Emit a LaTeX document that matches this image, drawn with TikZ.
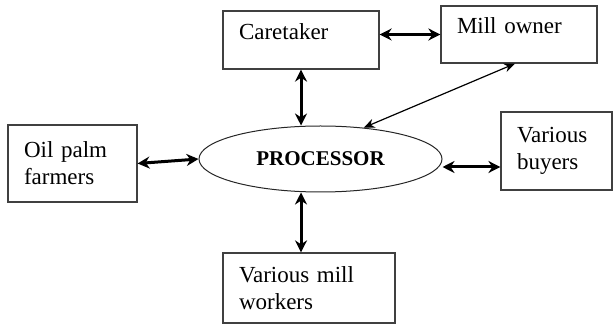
\documentclass[tikz,border=0pt]{standalone}
\usepackage{fontspec}
\setmainfont{Liberation Serif}
\usetikzlibrary{shapes.geometric, arrows.meta, positioning}

\begin{document}
\begin{tikzpicture}[
    x=0.5pt, y=-0.5pt,
    actor/.style={draw=black!75, line width=0.6pt, rectangle, inner xsep=8pt, align=left, font=\fontsize{11.5}{13.5}\selectfont},
    hub/.style={draw=black!85, line width=0.5pt, ellipse, minimum width=121.5pt, minimum height=33pt, inner sep=0pt, font=\fontsize{10.5}{12}\selectfont\bfseries},
    link/.style={{Stealth[length=6pt,width=6pt]}-{Stealth[length=6pt,width=6pt]}, line width=1.5pt},
    thinlink/.style={{Stealth[length=5.5pt,width=4.5pt]}-{Stealth[length=5.5pt,width=4.5pt]}, line width=0.6pt}
]
\useasboundingbox (0,0) rectangle (613,325);

% Central actor
\node[hub] (proc) at (320.5,159) {PROCESSOR};

% Surrounding actors
\node[actor, text width=62pt, minimum height=29pt, text depth=8pt] (care) at (301,40) {Caretaker};
\node[actor, text width=62pt, minimum height=28.5pt, text depth=9pt] (owner) at (519,34.5) {Mill owner};
\node[actor, text width=48.5pt, minimum height=38.5pt] (farmers) at (72.5,163.5) {Oil palm\\ farmers};
\node[actor, text width=39.5pt, minimum height=39pt] (buyers) at (556.5,151) {Various\\ buyers};
\node[actor, text width=70pt, minimum height=35pt] (workers) at (309,288) {Various mill\\ workers};

% Two-way links
\draw[link] (care.east |- owner.west) -- (owner.west);
\draw[link] (care.south) -- (care.south |- proc.north);
\draw[link] (proc.south -| care.south) -- (workers.north -| care.south);
\draw[link] (farmers.east) -- (proc.west);
\draw[link] ([yshift=-4pt]proc.east) -- ([yshift=-4pt]proc.east -| buyers.west);
\draw[thinlink] ([xshift=-2pt]owner.south) -- (proc.36);

\end{tikzpicture}
\end{document}
